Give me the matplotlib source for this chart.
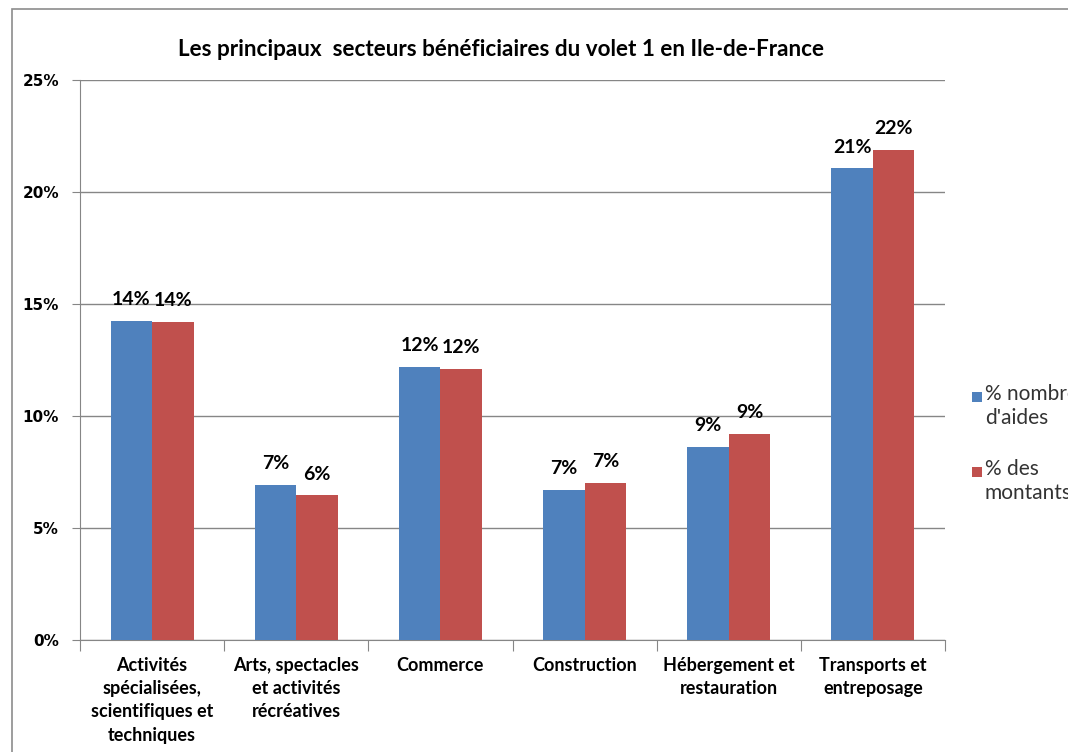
import matplotlib
matplotlib.use("Agg")
import matplotlib.pyplot as plt
from matplotlib.patches import Rectangle
import numpy as np

categories = ["Activités\nspécialisées,\nscientifiques et\ntechniques",
              "Arts, spectacles\net activités\nrécréatives",
              "Commerce",
              "Construction",
              "Hébergement et\nrestauration",
              "Transports et\nentreposage"]
nombre_aides = [14.25, 6.92, 12.19, 6.70, 8.62, 21.07]
montants = [14.20, 6.47, 12.10, 7.01, 9.20, 21.88]
series_names = ["% nombre\nd'aides", "% des\nmontants"]
title = "Les principaux  secteurs bénéficiaires du volet 1 en Ile-de-France"
yticks = [0, 5, 10, 15, 20, 25]

W, H = 1068, 752
fig = plt.figure(figsize=(W/100, H/100), dpi=100)
fig.patch.set_facecolor("white")

# outer chart border
fig.patches.append(Rectangle((12/W, -0.1), 1.2, (H-9)/H + 0.1, transform=fig.transFigure,
                             fill=False, edgecolor="#8c8c8c", linewidth=1.2))

ax = fig.add_axes([80/W, (H-640)/H, 865/W, 560/H])
blue = "#4f81bd"
red = "#c0504d"
grid_c = "#868686"

x = np.arange(len(categories))
bw = 0.288
b1 = ax.bar(x - bw/2, nombre_aides, bw, color=blue, zorder=3)
b2 = ax.bar(x + bw/2, montants, bw, color=red, zorder=3)

ax.set_xlim(-0.5, len(categories) - 0.5)
ax.set_ylim(0, 25)
ax.set_yticks(yticks)
ax.set_yticklabels([f"{v}%" for v in yticks], fontfamily="DejaVu Sans",
                   fontweight="bold", fontsize=11)
ax.yaxis.grid(True, color=grid_c, linewidth=1, zorder=0)
ax.set_axisbelow(True)
for s in ["top", "right"]:
    ax.spines[s].set_visible(False)
for s in ["left", "bottom"]:
    ax.spines[s].set_color(grid_c)
ax.tick_params(axis="y", length=6, color=grid_c, pad=9)

# x ticks at category boundaries
ax.set_xticks(np.arange(-0.5, len(categories), 1.0))
ax.set_xticklabels([])
ax.tick_params(axis="x", length=8, color=grid_c)
for i, c in enumerate(categories):
    ax.text(i, -0.75, c, ha="center", va="top", fontfamily="Lato", fontweight="bold",
            fontsize=13, linespacing=1.45, transform=ax.transData)

for bars, vals in ((b1, nombre_aides), (b2, montants)):
    for rect, v in zip(bars, vals):
        ax.annotate(f"{round(v):d}%", (rect.get_x() + rect.get_width()/2, v),
                    xytext=(0, 9), textcoords="offset points", ha="center", va="bottom",
                    fontfamily="Lato", fontweight="bold", fontsize=14)

fig.text(501/W, (H-50)/H, title, ha="center", va="center", fontfamily="Lato",
         fontweight="bold", fontsize=16.2)

# legend (clipped at right edge, as in the original)
for i, (name, col) in enumerate(zip(series_names, [blue, red])):
    yc = 397 + i*75
    fig.patches.append(Rectangle((972/W, (H-yc-5)/H), 10/W, 10/H, transform=fig.transFigure,
                                 facecolor=col, edgecolor="none"))
    fig.text(985/W, (H-yc+13)/H, name, ha="left", va="top", fontfamily="Lato",
             fontsize=15, color="#333333", linespacing=1.25)

fig.savefig("out.png", dpi=100)
